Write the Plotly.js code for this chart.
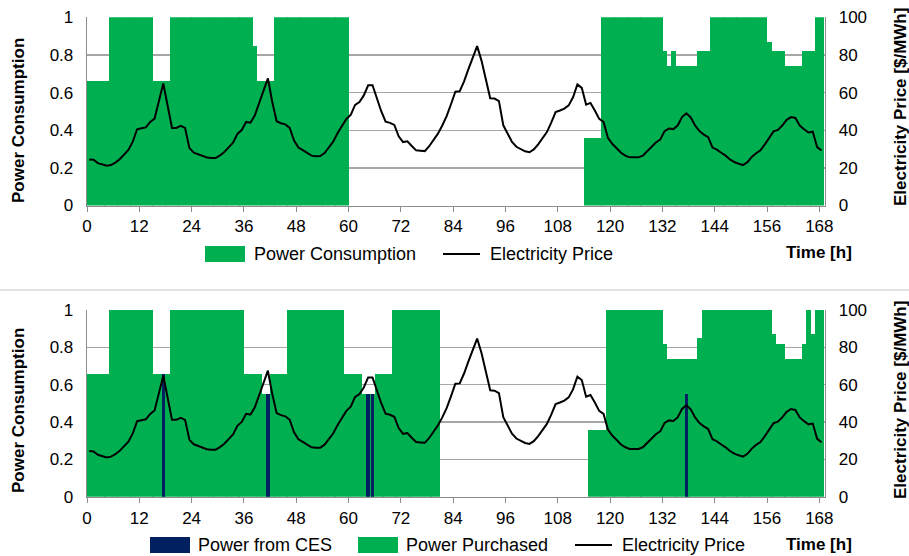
<!DOCTYPE html>
<html><head><meta charset="utf-8">
<script src="https://cdn.plot.ly/plotly-3.0.1.min.js"></script>
<style>html,body{margin:0;padding:0;background:#fff}#chart{width:909px;height:556px}</style>
</head><body><div id="chart"></div>
<script>
// ---------- DATA ----------
// hour index 0..168 (time axis categories)
const hours = Array.from({length: 169}, (_, i) => i);

// Top chart: power consumption per hour (p.u.)
const consumption = [
  0.66,0.66,0.66,0.66,0.66, 1,1,1,1,1,1,1,1,1,1, 0.66,0.66,0.66,0.66,
  1,1,1,1,1,1,1,1,1,1,1,1,1,1,1,1,1,1,1, 0.85, 0.66,0.66,0.66,0.66,
  1,1,1,1,1,1,1,1,1,1,1,1,1,1,1,1,1,
  0,0,0,0,0,0,0,0,0,0,0,0,0,0,0,0,0,0,0,0,0,0,0,0,0,0,0,0,0,0,0,0,0,0,0,0,0,0,0,0,0,0,0,0,0,0,0,0,0,0,0,0,0,0,
  0.36,0.36,0.36,0.36,
  1,1,1,1,1,1,1,1,1,1,1,1,1,1,
  0.82,0.74,0.82,0.74,0.74,0.74,0.74,0.74,0.82,0.82,0.82,
  1,1,1,1,1,1,1,1,1,1,1,1,1,
  0.87,0.82,0.82,0.82,0.74,0.74,0.74,0.74,0.82,0.82,0.82,1,1
];

// Bottom chart: power purchased per hour (p.u.)
const purchased = [
  0.66,0.66,0.66,0.66,0.66, 1,1,1,1,1,1,1,1,1,1, 0.66,0.66,0.66,0.66,
  1,1,1,1,1,1,1,1,1,1,1,1,1,1,1,1,1, 0.66,0.66,0.66,0.66, 0.55,0.55,
  0.66,0.66,0.66,0.66, 1,1,1,1,1,1,1,1,1,1,1,1,1,
  0.66,0.66,0.66,0.66, 0.55,0.55,0.55, 0.66,0.66,0.66,0.66,
  1,1,1,1,1,1,1,1,1,1,1,
  0,0,0,0,0,0,0,0,0,0,0,0,0,0,0,0,0,0,0,0,0,0,0,0,0,0,0,0,0,0,0,0,0,0,
  0.36,0.36,0.36,0.36,
  1,1,1,1,1,1,1,1,1,1,1,1,1,
  0.82,0.74,0.74,0.74,0.74,0.74,0.74,0.74,0.85,
  1,1,1,1,1,1,1,1,1,1,1,1,1,1,1,1,
  0.87,0.82,0.82,0.74,0.74,0.74,0.74,0.82,1,0.87,1,1
];

// Bottom chart: power from CES (only non-zero hours)
const cesHours  = [17, 41, 64, 65, 137];
const cesValues = [0.66, 0.55, 0.55, 0.55, 0.55];

// Electricity price per hour ($/MWh)
const price = [
  24.5,24.3,22.5,22.0,21.1,21.5,22.8,24.6,26.8,29.5,33.9,40.5,41.0,41.5,44.4,46.2,55.5,64.8,53.0,41.2,
  41.2,42.3,41.2,30.5,28.1,27.2,26.3,25.5,25.2,25.2,26.6,28.4,30.9,33.4,38.0,40.1,44.4,44.0,47.9,55.0,
  61.0,67.5,55.0,44.8,43.7,43.1,41.2,34.5,30.8,29.4,27.8,26.5,26.2,26.3,27.9,31.0,34.0,38.5,42.5,46.0,
  48.2,53.5,55.0,58.5,63.9,63.9,57.0,50.1,44.5,43.9,42.8,36.8,33.7,34.1,31.6,29.3,29.1,28.9,31.5,35.0,
  38.2,42.5,47.5,53.8,60.5,60.7,66.0,72.5,78.5,84.7,77.0,66.1,57.0,56.8,55.5,42.6,38.5,33.8,31.2,29.8,
  28.8,28.3,29.8,32.5,35.5,39.0,44.0,49.6,50.5,51.5,53.2,57.5,64.3,62.5,53.6,54.5,50.5,46.0,44.4,36.0,
  32.8,30.5,28.0,26.5,25.6,25.6,25.6,26.5,28.8,31.2,33.5,35.0,39.5,40.9,40.6,42.5,47.0,49.0,46.8,42.5,
  39.5,37.7,36.3,30.8,29.7,28.0,26.5,24.5,23.1,22.2,21.5,23.0,25.8,27.8,29.3,32.5,36.0,39.4,40.2,42.5,
  45.5,47.0,46.5,42.5,40.5,38.8,39.2,31.0,29.2
];

const xTicks = [0,12,24,36,48,60,72,84,96,108,120,132,144,156,168];
const leftTicks = [0,0.2,0.4,0.6,0.8,1];
const leftTickText = ['0','0.2','0.4','0.6','0.8','1'];
const rightTicks = [0,20,40,60,80,100];

const names = {
  cons: 'Power Consumption', price: 'Electricity Price',
  ces: 'Power from CES', purch: 'Power Purchased'
};
const leftTitle = 'Power Consumption';
const rightTitle = 'Electricity Price [$/MWh]';
const timeTitle = 'Time [h]';

// ---------- STYLE / LAYOUT ----------
const GREEN = '#00B050', NAVY = '#002060', GRID = '#a6a6a6', AX = '#8c8c8c';
const SANS = '"Liberation Sans",Arial,sans-serif';
const W = 909, H = 556, ML = 87, MR = 84, MT = 17, MB = 59;
const PW = W - ML - MR, PH = H - MT - MB;
const X = px => (px - ML) / PW;
const Y = py => (H - MB - py) / PH;

const priceX = hours.map(h => h + 0.5);

const traces = [
  {type:'bar', x:hours, y:consumption, xaxis:'x', yaxis:'y', width:1.06, offset:-0.03,
   marker:{color:GREEN, line:{width:0}}, name:names.cons, hoverinfo:'skip'},
  {type:'scatter', mode:'lines', x:priceX, y:price, xaxis:'x', yaxis:'y2',
   line:{color:'#000', width:2}, name:names.price, hoverinfo:'skip'},
  {type:'bar', x:hours, y:purchased, xaxis:'x2', yaxis:'y3', width:1.06, offset:-0.03,
   marker:{color:GREEN, line:{width:0}}, name:names.purch, hoverinfo:'skip'},
  {type:'bar', x:cesHours, y:cesValues, xaxis:'x2', yaxis:'y3', width:0.82, offset:0.09,
   marker:{color:NAVY, line:{width:0}}, name:names.ces, hoverinfo:'skip'},
  {type:'scatter', mode:'lines', x:priceX, y:price, xaxis:'x2', yaxis:'y4',
   line:{color:'#000', width:2}, name:names.price, hoverinfo:'skip'}
];

const topDom = [Y(205.5), Y(17.3)];
const botDom = [Y(496.8), Y(310)];
const TICKF = {family:SANS, size:17, color:'#000'};

function xax(anchor){
  return {anchor, domain:[0,1], range:[0,169.3], tickvals:xTicks, ticks:'outside', ticklen:5,
    tickcolor:AX, tickwidth:1, showline:true, linecolor:AX, linewidth:1.3, showgrid:false,
    zeroline:false, tickfont:TICKF, fixedrange:true};
}
function yl(anchor, dom){
  return {anchor, domain:dom, range:[0,1], tickvals:leftTicks, ticktext:leftTickText,
    showgrid:true, gridcolor:GRID, gridwidth:1.3, showline:true, linecolor:AX, linewidth:1.3,
    zeroline:false, ticks:'outside', ticklen:9, tickcolor:'rgba(0,0,0,0)',
    tickfont:TICKF, fixedrange:true};
}
function yr(anchor, over){
  return {anchor, overlaying:over, side:'right', range:[0,100], tickvals:rightTicks,
    showgrid:false, showline:true, linecolor:AX, linewidth:1.3, zeroline:false,
    ticks:'outside', ticklen:9, tickcolor:'rgba(0,0,0,0)',
    tickfont:TICKF, fixedrange:true};
}

const shapes = [];
const annotations = [];
function rect(x0,x1,y0,y1,color){
  shapes.push({type:'rect', xref:'paper', yref:'paper', x0:X(x0), x1:X(x1), y0:Y(y1), y1:Y(y0),
    fillcolor:color, line:{width:0}});
}
function hline(x0,x1,y,color,w){
  shapes.push({type:'line', xref:'paper', yref:'paper', x0:X(x0), x1:X(x1), y0:Y(y), y1:Y(y),
    line:{color, width:w}});
}
function label(text,x,y,opts){
  annotations.push(Object.assign({text, xref:'paper', yref:'paper', x:X(x), y:Y(y),
    showarrow:false, xanchor:'left', yanchor:'middle',
    font:{family:SANS, size:18, color:'#000'}}, opts||{}));
}

// separator between the two charts
hline(-100, 1100, 290, '#d9d9d9', 1.5);

const timeFont = {family:SANS, size:17, color:'#000', weight:'bold'};
// top legend
rect(205,245,246,262,GREEN);
label(names.cons, 252, 254);
hline(443,480,254,'#000',2);
label(names.price, 488, 254);
label(timeTitle, 854, 252, {xanchor:'right', font:timeFont});

// bottom legend
rect(150,190,537,553,NAVY);
label(names.ces, 196, 545);
rect(358,398,537,553,GREEN);
label(names.purch, 404, 545);
hline(575,612,545,'#000',2);
label(names.price, 620, 545);
label(timeTitle, 854, 544, {xanchor:'right', font:timeFont});

// axis titles
const tfont = {family:SANS, size:17, color:'#000', weight:'bold'};
label(leftTitle, 18, 121, {xanchor:'center', textangle:-90, font:tfont});
label(leftTitle, 18, 411, {xanchor:'center', textangle:-90, font:tfont});
label(rightTitle, 900, 107, {xanchor:'center', textangle:-90, font:tfont});
label(rightTitle, 900, 400, {xanchor:'center', textangle:-90, font:tfont});

const layout = {
  width:W, height:H, margin:{l:ML, r:MR, t:MT, b:MB, pad:0},
  paper_bgcolor:'#fff', plot_bgcolor:'rgba(0,0,0,0)',
  showlegend:false, barmode:'overlay', bargap:0,
  xaxis: xax('y'), xaxis2: xax('y3'),
  yaxis: yl('x', topDom), yaxis2: yr('x','y'),
  yaxis3: yl('x2', botDom), yaxis4: yr('x2','y3'),
  shapes, annotations
};

Plotly.newPlot('chart', traces, layout, {staticPlot:true, displayModeBar:false});
</script></body></html>
